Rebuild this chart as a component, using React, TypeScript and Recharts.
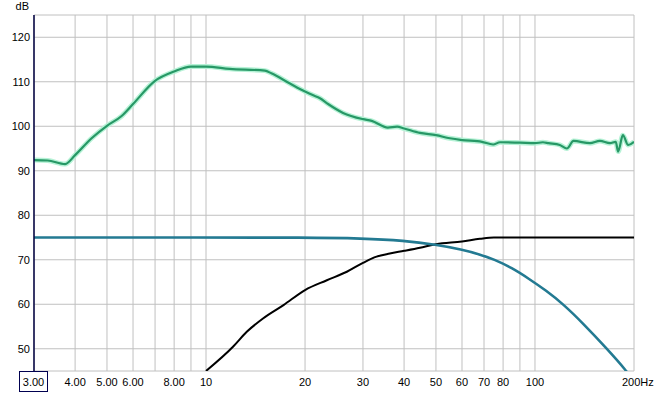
import React from "react";
import { CartesianGrid, Line, LineChart, XAxis, YAxis } from "recharts";

// measured response (green)
const measFreq = [3, 3.3, 3.73, 4, 4.49, 5, 5.54, 6, 7, 8, 9, 10, 11.8, 15.1, 15.8, 18, 20, 21.1, 22.2, 23.5, 26.1, 30, 31.9, 35.7, 38.1, 40, 44.7, 50, 55.1, 60, 69, 74.6, 78.3, 90, 100, 105.7, 110, 119, 125, 131, 147, 157.5, 169, 176, 179, 185, 192, 200];
const measDb = [92.4, 92.3, 91.5, 93.5, 97.3, 100.1, 102.3, 105, 110.2, 112.3, 113.4, 113.4, 112.9, 112.5, 111.9, 109.6, 107.8, 107, 106.3, 105, 103, 101.6, 101.2, 99.7, 99.9, 99.5, 98.5, 98, 97.3, 96.9, 96.5, 95.9, 96.4, 96.3, 96.2, 96.4, 96.2, 95.8, 95, 96.7, 96.2, 96.7, 96.2, 96.5, 94.3, 98, 95.8, 96.5];

// low pass target (teal)
const lowFreq = [3, 10, 20, 30, 40, 50, 60, 68, 75, 85, 96, 108, 122, 140, 165, 190, 200];
const lowDb = [75, 75, 75, 74.8, 74.3, 73.4, 72.3, 71.2, 70.1, 68.2, 65.7, 63.1, 60, 55.7, 50.1, 45, 42.6];

// high pass target (black)
const highFreq = [10, 12.1, 13.3, 14.9, 17.2, 20, 23.3, 26.8, 30, 33, 36.2, 40, 44.7, 50, 60, 68, 75, 200];
const highDb = [45, 50.5, 53.8, 56.8, 59.8, 63.2, 65.4, 67.3, 69.3, 70.7, 71.4, 72, 72.7, 73.5, 74.1, 74.7, 75, 75];

const xTicks = [3, 4, 5, 6, 7, 8, 9, 10, 20, 30, 40, 50, 60, 70, 80, 90, 100, 200];
const xLabels: Record<number, string> = {
  3: "3.00", 4: "4.00", 5: "5.00", 6: "6.00", 8: "8.00", 10: "10", 20: "20", 30: "30",
  40: "40", 50: "50", 60: "60", 70: "70", 80: "80", 100: "100", 200: "200Hz",
};
const yTicks = [45, 50, 60, 70, 80, 90, 100, 110, 120, 125];

const toRows = (f: number[], v: number[]) => f.map((x, i) => ({ f: x, db: v[i] }));
const measData = toRows(measFreq, measDb);
const lowData = toRows(lowFreq, lowDb);
const highData = toRows(highFreq, highDb);

const FONT = "'Liberation Sans', Arial, sans-serif";

const XTick = (props: any) => {
  const { x, payload } = props;
  const label = xLabels[payload.value];
  if (!label) return null;
  if (payload.value === 3) {
    return (
      <g>
        <rect x={19.5} y={371.5} width={28} height={20} fill="#fff" stroke="#000050" />
        <text x={33.5} y={386} textAnchor="middle" fontSize={11} fontFamily={FONT} fill="#000">{label}</text>
      </g>
    );
  }
  if (payload.value === 200) {
    return <text x={x - 12} y={386} textAnchor="start" fontSize={11} fontFamily={FONT} fill="#000">{label}</text>;
  }
  return <text x={x} y={386} textAnchor="middle" fontSize={11} fontFamily={FONT} fill="#000">{label}</text>;
};

const YTick = (props: any) => {
  const { y, payload } = props;
  if (payload.value === 45 || payload.value === 125) return null;
  return <text x={30} y={y + 4} textAnchor="end" fontSize={11} fontFamily={FONT} fill="#000">{payload.value}</text>;
};

export default function App() {
  return (
    <div style={{ position: "absolute", left: 0, top: 0, width: 668, height: 393, background: "#fff" }}>
      <LineChart width={668} height={393} margin={{ top: 15, right: 34, bottom: 0, left: 0 }}>
        <CartesianGrid stroke="#c0c0c0" strokeWidth={1} />
        <XAxis
          type="number"
          dataKey="f"
          scale="log"
          domain={[3, 200]}
          ticks={xTicks}
          allowDataOverflow
          axisLine={false}
          tickLine={false}
          height={22}
          tick={<XTick />}
          interval={0}
        />
        <YAxis
          type="number"
          domain={[45, 125]}
          ticks={yTicks}
          allowDataOverflow
          width={34}
          axisLine={{ stroke: "#000040", strokeWidth: 1.5 }}
          tickLine={false}
          tick={<YTick />}
          interval={0}
        />
        <Line data={measData} dataKey="db" type="monotone" stroke="#b6f2d6" strokeWidth={5} dot={false} isAnimationActive={false} />
        <Line data={measData} dataKey="db" type="monotone" stroke="#279866" strokeWidth={2.2} dot={false} isAnimationActive={false} />
        <Line data={highData} dataKey="db" type="monotone" stroke="#000000" strokeWidth={2} dot={false} isAnimationActive={false} />
        <Line data={lowData} dataKey="db" type="basis" stroke="#237a92" strokeWidth={2.6} dot={false} isAnimationActive={false} />
      </LineChart>
      <div style={{ position: "absolute", left: 0, top: 0, width: 29, textAlign: "right", fontFamily: FONT, fontSize: 11, lineHeight: "13px", color: "#000" }}>dB</div>
    </div>
  );
}
